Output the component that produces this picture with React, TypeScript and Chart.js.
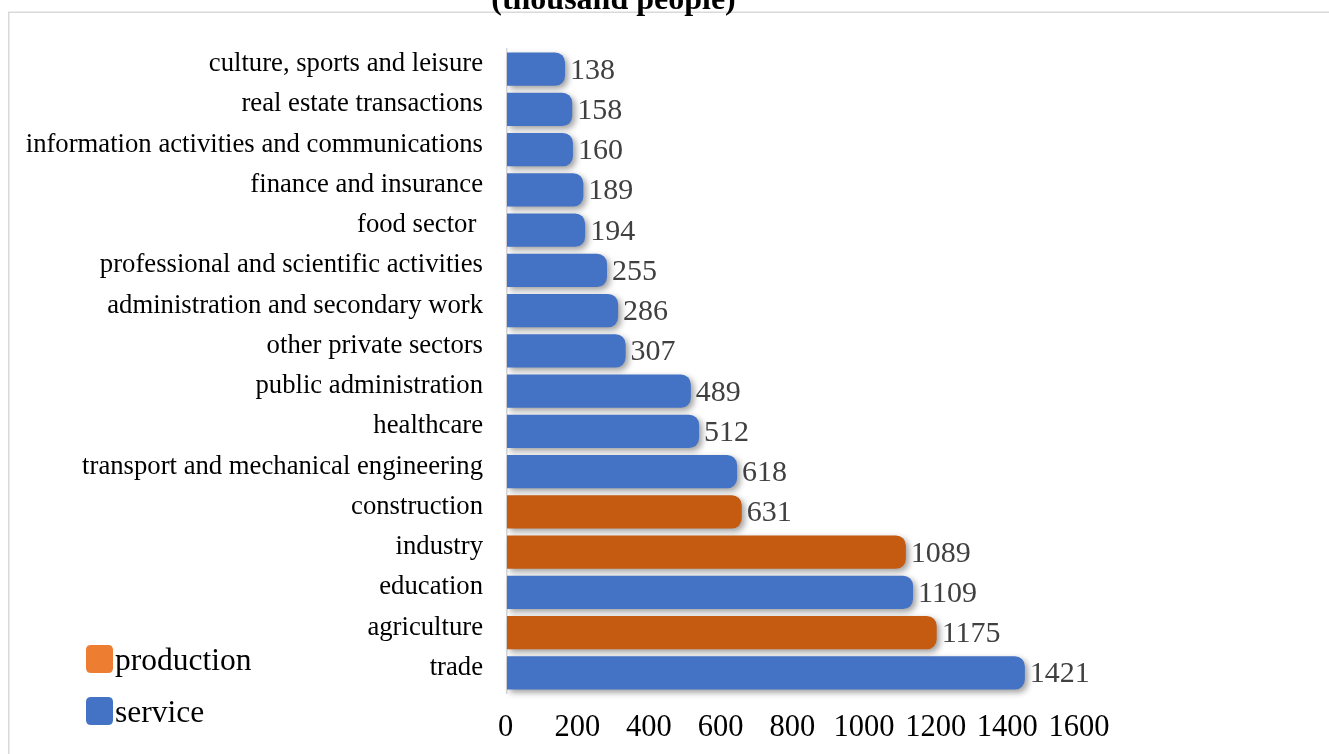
import React, { useEffect, useRef } from 'react';
import { Chart, registerables } from 'chart.js';

Chart.register(...registerables);

const categories = [
  'culture, sports and leisure',
  'real estate transactions',
  'information activities and communications',
  'finance and insurance',
  'food sector ',
  'professional and scientific activities',
  'administration and secondary work',
  'other private sectors',
  'public administration',
  'healthcare',
  'transport and mechanical engineering',
  'construction',
  'industry',
  'education',
  'agriculture',
  'trade',
];

const values = [138, 158, 160, 189, 194, 255, 286, 307, 489, 512, 618, 631, 1089, 1109, 1175, 1421];

const sectors = [
  'service', 'service', 'service', 'service', 'service', 'service', 'service', 'service',
  'service', 'service', 'service', 'production', 'production', 'service', 'production', 'service',
];

const xTicks = [0, 200, 400, 600, 800, 1000, 1200, 1400, 1600];
const legendItems = ['production', 'service'];
const titleText = '(thousand people)';

const X_MIN = -24;
const X_MAX = 1600;

const FONT = '"Liberation Serif", "Times New Roman", serif';
const barColors: Record<string, string> = { production: '#C55A11', service: '#4472C4' };
const legendColors: Record<string, string> = { production: '#ED7D31', service: '#4472C4' };

function roundRect(ctx: CanvasRenderingContext2D, x: number, y: number, w: number, h: number, r: number) {
  ctx.beginPath();
  ctx.moveTo(x + r, y);
  ctx.lineTo(x + w - r, y);
  ctx.quadraticCurveTo(x + w, y, x + w, y + r);
  ctx.lineTo(x + w, y + h - r);
  ctx.quadraticCurveTo(x + w, y + h, x + w - r, y + h);
  ctx.lineTo(x + r, y + h);
  ctx.quadraticCurveTo(x, y + h, x, y + h - r);
  ctx.lineTo(x, y + r);
  ctx.quadraticCurveTo(x, y, x + r, y);
  ctx.closePath();
}

const decor = {
  id: 'decor',
  beforeDraw(chart: any) {
    const ctx = chart.ctx as CanvasRenderingContext2D;
    ctx.save();
    ctx.fillStyle = '#ffffff';
    ctx.fillRect(0, 0, chart.width, chart.height);
    ctx.strokeStyle = '#d9d9d9';
    ctx.lineWidth = 1.5;
    ctx.strokeRect(8.75, 12.25, chart.width + 20, chart.height + 20);
    ctx.restore();
  },
  beforeDatasetDraw(chart: any) {
    const ctx = chart.ctx as CanvasRenderingContext2D;
    ctx.save();
    ctx.shadowColor = 'rgba(0,0,0,0.38)';
    ctx.shadowBlur = 6;
    ctx.shadowOffsetX = 3;
    ctx.shadowOffsetY = 3;
  },
  afterDatasetDraw(chart: any) {
    chart.ctx.restore();
  },
  afterDatasetsDraw(chart: any) {
    const ctx = chart.ctx as CanvasRenderingContext2D;
    const meta = chart.getDatasetMeta(0);
    ctx.save();
    ctx.font = `30px ${FONT}`;
    ctx.fillStyle = '#404040';
    ctx.textAlign = 'left';
    ctx.textBaseline = 'middle';
    meta.data.forEach((bar: any, i: number) => {
      ctx.fillText(String(values[i]), bar.x + 5, bar.y + 1.6);
    });
    ctx.restore();
  },
  afterDraw(chart: any) {
    const ctx = chart.ctx as CanvasRenderingContext2D;
    ctx.save();
    ctx.font = `bold 32px ${FONT}`;
    ctx.fillStyle = '#000';
    ctx.textAlign = 'center';
    ctx.textBaseline = 'alphabetic';
    ctx.fillText(titleText, 613.5, 8.5);
    ctx.font = `31.5px ${FONT}`;
    ctx.textAlign = 'left';
    legendItems.forEach((name, i) => {
      const top = 645 + i * 52;
      ctx.fillStyle = legendColors[name];
      roundRect(ctx, 86, top, 27, 28, 5);
      ctx.fill();
      ctx.fillStyle = '#000';
      ctx.fillText(name, 115, top + 25);
    });
    ctx.restore();
  },
};

export default function App() {
  const ref = useRef<HTMLCanvasElement>(null);
  useEffect(() => {
    const canvas = ref.current!;
    const chart = new Chart(canvas, {
      type: 'bar',
      data: {
        labels: categories,
        datasets: [
          {
            data: values,
            backgroundColor: sectors.map((s) => barColors[s]),
            base: X_MIN,
            borderRadius: 10,
            borderSkipped: 'start',
            barPercentage: 0.83,
            categoryPercentage: 1,
            clip: false,
          } as any,
        ],
      },
      options: {
        indexAxis: 'y',
        animation: false,
        responsive: false,
        devicePixelRatio: 1,
        layout: { padding: { left: 0, top: 49, right: 240, bottom: 0 } },
        plugins: {
          legend: { display: false },
          tooltip: { enabled: false },
          title: { display: false },
        },
        scales: {
          x: {
            type: 'linear',
            min: X_MIN,
            max: X_MAX,
            afterBuildTicks: (s: any) => {
              s.ticks = xTicks.map((v) => ({ value: v }));
            },
            afterFit: (s: any) => {
              s.height = 61;
            },
            grid: { display: false, drawTicks: false },
            border: { display: false },
            ticks: {
              padding: 17,
              labelOffset: -10,
              autoSkip: false,
              maxRotation: 0,
              color: '#000',
              font: { family: FONT, size: 30.5 },
              callback: (v: any) => String(v),
            },
          },
          y: {
            afterFit: (s: any) => {
              s.width = 507;
            },
            grid: { display: false, drawTicks: false },
            border: { display: true, color: '#d9d9d9', width: 1.5 },
            ticks: {
              padding: 24,
              labelOffset: -5,
              autoSkip: false,
              color: '#000',
              font: { family: FONT, size: 26.7 },
            },
          },
        },
      } as any,
      plugins: [decor],
    });
    return () => chart.destroy();
  }, []);
  return (
    <div style={{ position: 'fixed', left: 0, top: 0, width: 1329, height: 754, background: '#fff' }}>
      <canvas ref={ref} width={1329} height={754} style={{ display: 'block' }} />
    </div>
  );
}
